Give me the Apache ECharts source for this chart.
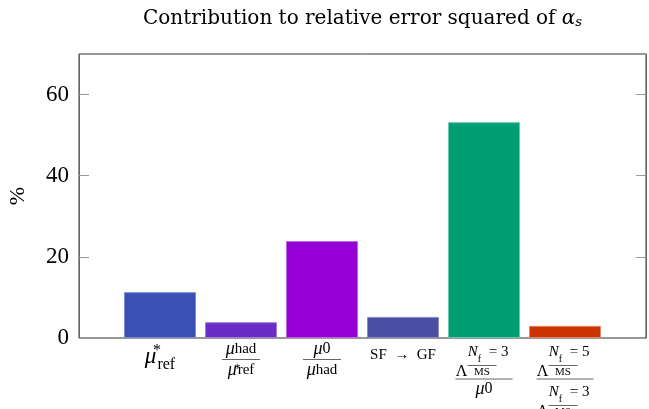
<!DOCTYPE html>
<html>
<head>
<meta charset="utf-8">
<script src="https://cdn.jsdelivr.net/npm/echarts@6/dist/echarts.min.js"></script>
<style>
  html, body { margin: 0; padding: 0; background: #fff; }
  #chart { width: 649px; height: 409px; }
</style>
</head>
<body>
<div id="chart"></div>
<script>
// categories (rich-text labels, padded with an empty slot at each end)
const categories = [
  '',
  '{a|μ}{b|*}{c|ref}',
  '{fm|μ}{fs|had}\n{bar| }\n{fm|μ}{fu|*}{fs|ref}',
  '{fm|μ}{fn|0}\n{bar| }\n{fm|μ}{fs|had}',
  '{sf|SF  →  GF}',
  '{lsp| }{ni|N}{nf|f}{nn| = 3}\n{lsp| }{mbar| }{tail| }\n{L|Λ}{ms|MS}{tail| }\n{fbar| }\n{fm|μ}{fn|0}',
  '{lsp| }{ni|N}{nf|f}{nn| = 5}\n{lsp| }{mbar| }{tail| }\n{L|Λ}{ms|MS}{tail| }\n{fbar| }\n{lsp| }{ni|N}{nf|f}{nn| = 3}\n{lsp| }{mbar| }{tail| }\n{L|Λ}{ms|MS}{tail| }',
  ''
]
const values = [null, 11.3, 3.9, 23.9, 5.2, 53.2, 3.0, null]
const palette = [null, '#3a50b4', '#6a2cc4', '#9400d6', '#4a4ea4', '#009e74', '#cc3300', null]
const edges = [null, '#7d8cd0', '#a07ed8', '#be66e6', '#8b8cc4', '#6cc9ad', '#e08a66', null]
const yTicks = { min: 0, max: 70, interval: 20 }

const font = 'Liberation Serif'

const chart = echarts.init(document.getElementById('chart'))

const seriesData = values.map((v, i) => v === null ? null : {
  value: v,
  itemStyle: { color: palette[i], borderColor: edges[i], borderWidth: 1 }
})

const option = {
  animation: false,
  title: {
    text: 'Contribution to relative error squared of {i|α}{s|s}',
    left: 138,
    top: 4,
    textStyle: {
      fontFamily: 'DejaVu Serif',
      fontSize: 20,
      fontWeight: 'normal',
      color: '#000',
      rich: {
        i: { fontFamily: 'DejaVu Serif', fontSize: 20, fontStyle: 'italic', color: '#000' },
        s: { fontFamily: 'DejaVu Serif', fontSize: 13, fontStyle: 'italic', color: '#000', verticalAlign: 'bottom', lineHeight: 12 }
      }
    }
  },
  grid: {
    left: 79, right: 3, top: 54, bottom: 71,
    containLabel: false, outerBoundsMode: 'none',
    show: true, borderColor: '#333', borderWidth: 1, backgroundColor: 'transparent'
  },
  xAxis: [{
    type: 'category',
    position: 'bottom',
    boundaryGap: false,
    data: categories,
    axisLine: { show: false, onZero: false },
    axisTick: { show: false },
    axisLabel: {
      interval: 0,
      margin: 3,
      fontFamily: font,
      fontSize: 15,
      color: '#000',
      verticalAlign: 'top',
      rich: {
        a: { fontFamily: font, fontSize: 23, fontStyle: 'italic', lineHeight: 32, color: '#000' },
        b: { fontFamily: font, fontSize: 16, lineHeight: 16, padding: [2, 0, 0, 0], verticalAlign: 'top', width: 1, color: '#000' },
        c: { fontFamily: font, fontSize: 16, lineHeight: 16, verticalAlign: 'bottom', color: '#000' },
        fm: { fontFamily: font, fontSize: 18, fontStyle: 'italic', lineHeight: 16, color: '#000' },
        fs: { fontFamily: font, fontSize: 15, lineHeight: 10, verticalAlign: 'bottom', color: '#000' },
        fu: { fontFamily: font, fontSize: 13, lineHeight: 10, verticalAlign: 'top', width: 1, color: '#000' },
        fn: { fontFamily: font, fontSize: 16, lineHeight: 12, verticalAlign: 'bottom', color: '#000' },
        bar: { width: 38, height: 1, lineHeight: 5, backgroundColor: '#666' },
        sf: { fontFamily: font, fontSize: 15, lineHeight: 28, color: '#000' },
        lsp: { width: 12, fontSize: 10, lineHeight: 3 },
        ni: { fontFamily: font, fontSize: 15, fontStyle: 'italic', lineHeight: 23, color: '#000' },
        nf: { fontFamily: font, fontSize: 10, lineHeight: 14, verticalAlign: 'bottom', color: '#000' },
        nn: { fontFamily: font, fontSize: 15, lineHeight: 23, width: 31, align: 'left', color: '#000' },
        mbar: { width: 29, height: 1, lineHeight: 3, backgroundColor: '#666' },
        tail: { width: 16, fontSize: 10, lineHeight: 3 },
        L: { fontFamily: font, fontSize: 16, lineHeight: 10, width: 12, align: 'center', color: '#000' },
        ms: { fontFamily: font, fontSize: 11, lineHeight: 10, width: 29, align: 'center', color: '#000' },
        fbar: { width: 57, height: 1, lineHeight: 4, backgroundColor: '#666' }
      }
    }
  }],
  yAxis: [{
    type: 'value',
    min: yTicks.min,
    max: yTicks.max,
    interval: yTicks.interval,
    name: '%',
    nameLocation: 'middle',
    nameGap: 50,
    nameTextStyle: { fontFamily: font, fontSize: 22, color: '#000' },
    axisLine: { show: true, lineStyle: { color: '#666', width: 1 } },
    axisTick: { show: true, inside: true, length: 10, lineStyle: { color: '#999' } },
    axisLabel: { fontFamily: font, fontSize: 23, color: '#000', margin: 10, showMaxLabel: false },
    splitLine: { show: false }
  }, {
    type: 'value',
    position: 'right',
    min: yTicks.min,
    max: yTicks.max,
    interval: yTicks.interval,
    axisLine: { show: true, lineStyle: { color: '#666', width: 1 } },
    axisTick: { show: true, inside: true, length: 10, lineStyle: { color: '#999' } },
    axisLabel: { show: false },
    splitLine: { show: false }
  }],
  series: [{
    type: 'bar',
    data: seriesData,
    barWidth: 72
  }]
}

chart.setOption(option)
</script>
</body>
</html>
